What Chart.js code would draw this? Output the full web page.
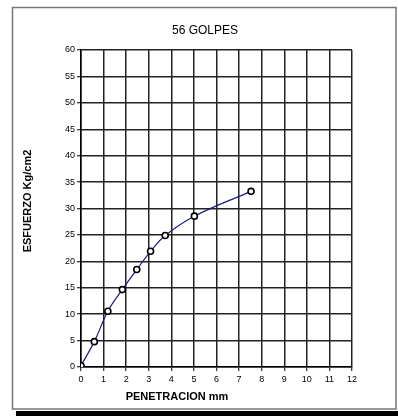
<!DOCTYPE html>
<html>
<head>
<meta charset="utf-8">
<script src="https://cdn.jsdelivr.net/npm/chart.js@4/dist/chart.umd.min.js"></script>
<style>
  html, body { margin: 0; padding: 0; background: #fff; }
  #wrap { width: 398px; height: 416px; }
</style>
</head>
<body>
<div id="wrap"><canvas id="c" width="398" height="416"></canvas></div>
<script>
// Penetration test, 56 blows
const penetracion = [0, 0.59, 1.19, 1.83, 2.47, 3.08, 3.73, 5.02, 7.53];
const esfuerzo = [0.25, 4.8, 10.55, 14.65, 18.45, 21.9, 24.9, 28.55, 33.25];
const titulo = '56 GOLPES';
const tituloX = 'PENETRACION mm';
const tituloY = 'ESFUERZO Kg/cm2';

const FONT = '"Liberation Sans", Arial, sans-serif';

// frame with bottom shadow, plus title texts
const framePlugin = {
  id: 'frame',
  beforeDraw(chart) {
    const ctx = chart.ctx;
    ctx.save();
    ctx.fillStyle = '#fff';
    ctx.fillRect(0, 0, chart.width, chart.height);
    ctx.fillStyle = '#000';
    ctx.fillRect(16, 411, chart.width - 16, 5);
    ctx.strokeStyle = '#777';
    ctx.lineWidth = 1.5;
    ctx.strokeRect(12.5, 7.5, 383.5, 401.5);
    ctx.restore();
  },
  afterDraw(chart) {
    const ctx = chart.ctx;
    ctx.save();
    ctx.fillStyle = '#000';
    ctx.textAlign = 'center';
    ctx.textBaseline = 'middle';
    ctx.font = '12px ' + FONT;
    ctx.fillText(titulo, 205, 31);
    ctx.font = 'bold 11px ' + FONT;
    ctx.fillText(tituloX, 177, 397);
    ctx.translate(28, 201);
    ctx.rotate(-Math.PI / 2);
    ctx.fillText(tituloY, 0, 0);
    ctx.restore();
  }
};

new Chart(document.getElementById('c'), {
  type: 'line',
  data: {
    datasets: [{
      data: penetracion.map((x, i) => ({ x, y: esfuerzo[i] })),
      borderColor: '#1a1a8c',
      borderWidth: 1.2,
      tension: 0.4,
      pointRadius: 3,
      pointBorderWidth: 1.6,
      pointBorderColor: '#000',
      pointBackgroundColor: '#fff',
      fill: false
    }]
  },
  options: {
    responsive: false,
    animation: false,
    devicePixelRatio: 1,
    layout: { padding: { top: 50, right: 46, left: 0, bottom: 0 } },
    plugins: { legend: { display: false }, tooltip: { enabled: false }, title: { display: false } },
    scales: {
      x: {
        type: 'linear',
        min: 0, max: 12,
        afterFit(s) { s.height = 49; },
        ticks: { stepSize: 1, color: '#000', font: { family: FONT, size: 9 }, padding: 3, maxRotation: 0 },
        grid: { color: '#222', lineWidth: 1.5, tickLength: 4, tickColor: '#000', tickWidth: 1 },
        border: { color: '#000', width: 1.5 }
      },
      y: {
        type: 'linear',
        min: 0, max: 60,
        afterFit(s) { s.width = 81; },
        ticks: { stepSize: 5, color: '#000', font: { family: FONT, size: 9 }, padding: 2 },
        grid: { color: '#222', lineWidth: 1.5, tickLength: 4, tickColor: '#000', tickWidth: 1 },
        border: { color: '#000', width: 1.5 }
      }
    }
  },
  plugins: [framePlugin]
});
</script>
</body>
</html>
